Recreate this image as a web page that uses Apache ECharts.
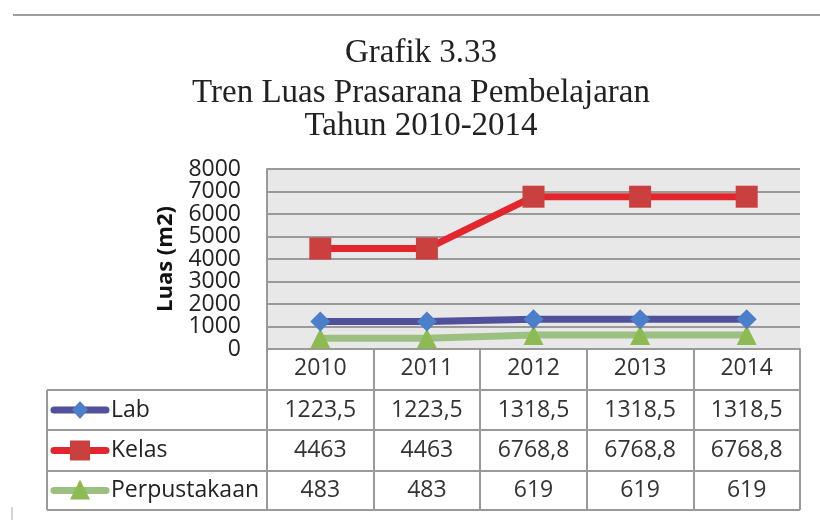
<!DOCTYPE html>
<html>
<head>
<meta charset="utf-8">
<script src="https://cdn.jsdelivr.net/npm/echarts@6/dist/echarts.min.js"></script>
<style>
  html, body { margin: 0; padding: 0; background: #fff; }
  #chart { width: 820px; height: 520px; }
</style>
</head>
<body>
<div id="chart"></div>
<script>
// data
const years = ['2010', '2011', '2012', '2013', '2014']
const lab = [1223.5, 1223.5, 1318.5, 1318.5, 1318.5]
const kelas = [4463, 4463, 6768.8, 6768.8, 6768.8]
const perpustakaan = [483, 483, 619, 619, 619]
const seriesNames = ['Lab', 'Kelas', 'Perpustakaan']
const yTicks = [0, 8000, 1000] // min, max, interval
const yLabels = [0, 1000, 2000, 3000, 4000, 5000, 6000, 7000, 8000]
const titleLines = ['Grafik 3.33', 'Tren Luas Prasarana Pembelajaran', 'Tahun 2010-2014']

const FONT = '"Open Sans", "Noto Sans", sans-serif'
const lineColors = ['#51519b', '#e3262d', '#9cc081']
const markColors = ['#4b7fc9', '#c9403f', '#8dba52']
const markShapes = ['diamond', 'rect', 'triangle']
const markSizes = [20, 22, 20]

// table layout (pixels)
const tableLeft = 47
const plotLeft = 267
const plotRight = 800
const plotTop = 169
const plotBottom = 349
const rowLines = [390, 430, 471, 510]
const titleTops = [37, 77, 110]

const chart = echarts.init(document.getElementById('chart'), null, { renderer: 'canvas' })

const fmt = v => String(v).replace('.', ',')

const option = {
  backgroundColor: '#fff',
  animation: false,
  title: titleLines.map((t, i) => ({
    text: t,
    left: 421,
    top: titleTops[i],
    textAlign: 'center',
    padding: 0,
    textStyle: {
      fontFamily: '"Liberation Serif", "DejaVu Serif", serif',
      fontWeight: 'normal',
      fontSize: 33,
      lineHeight: 33,
      color: '#222'
    }
  })),
  grid: {
    left: plotLeft,
    right: 820 - plotRight,
    top: plotTop,
    bottom: 520 - plotBottom,
    show: true,
    backgroundColor: '#e8e8e8',
    borderWidth: 0
  },
  xAxis: {
    type: 'category',
    data: years,
    boundaryGap: true,
    axisLine: { lineStyle: { color: '#9a9a9a', width: 2 } },
    axisTick: { show: true, length: rowLines[3] - plotBottom, lineStyle: { color: '#9a9a9a', width: 2 } },
    axisLabel: { fontFamily: FONT, fontSize: 23, color: '#333', margin: 8 },
    splitLine: { show: false }
  },
  yAxis: {
    type: 'value',
    min: yTicks[0],
    max: yTicks[1],
    interval: yTicks[2],
    name: 'Luas (m2)',
    nameLocation: 'middle',
    nameGap: 90,
    nameRotate: 90,
    nameTextStyle: { fontFamily: FONT, fontSize: 22, fontWeight: 'bold', color: '#111' },
    axisLine: { show: true, lineStyle: { color: '#9a9a9a', width: 2 } },
    axisTick: { show: false },
    // tick labels are packed tighter than echarts allows, drawn below as graphic text
    axisLabel: { show: false },
    splitLine: { show: true, lineStyle: { color: '#9a9a9a', width: 2 } }
  },
  series: [lab, kelas, perpustakaan].map((d, i) => ({
    name: seriesNames[i],
    type: 'line',
    data: d,
    z: i === 1 ? 4 : 3 - i,
    symbol: markShapes[i],
    symbolSize: markSizes[i],
    lineStyle: { color: lineColors[i], width: 7 },
    itemStyle: { color: markColors[i] }
  }))
}

chart.setOption(option)

const g = []
// y tick labels from the value scale
yLabels.forEach(v => {
  const py = chart.convertToPixel({ yAxisIndex: 0 }, v)
  g.push({ type: 'text', x: 241, y: py, z: 12,
    style: { text: String(v), font: '23px ' + FONT, fill: '#222', textAlign: 'right', textVerticalAlign: 'middle' } })
})

// data table under the plot
const grey = { stroke: '#9a9a9a', lineWidth: 2 }
rowLines.forEach(y => {
  g.push({ type: 'line', shape: { x1: tableLeft, y1: y, x2: plotRight, y2: y }, style: grey, z: 10 })
})
g.push({ type: 'line', shape: { x1: tableLeft, y1: rowLines[0], x2: tableLeft, y2: rowLines[3] }, style: grey, z: 10 })
// page frame lines
g.push({ type: 'line', shape: { x1: 13, y1: 15, x2: 820, y2: 15 }, style: { stroke: '#9d9d9d', lineWidth: 2 }, z: 10 })
g.push({ type: 'line', shape: { x1: 12, y1: 507, x2: 12, y2: 520 }, style: { stroke: '#aaa', lineWidth: 1 }, z: 10 })

const rows = [lab, kelas, perpustakaan]
rows.forEach((d, r) => {
  const cy = (rowLines[r] + rowLines[r + 1]) / 2
  // legend key: line + marker
  g.push({ type: 'line', shape: { x1: 54, y1: cy, x2: 106, y2: cy },
    style: { stroke: lineColors[r], lineWidth: 7, lineCap: 'round' }, z: 11 })
  const mx = 80
  if (markShapes[r] === 'diamond') {
    g.push({ type: 'polygon', shape: { points: [[mx, cy - 9], [mx + 8, cy], [mx, cy + 9], [mx - 8, cy]] },
      style: { fill: markColors[r] }, z: 12 })
  } else if (markShapes[r] === 'rect') {
    g.push({ type: 'rect', shape: { x: mx - 10, y: cy - 10, width: 20, height: 20 },
      style: { fill: markColors[r] }, z: 12 })
  } else {
    g.push({ type: 'polygon', shape: { points: [[mx, cy - 11], [mx + 10, cy + 9], [mx - 10, cy + 9]] },
      style: { fill: markColors[r] }, z: 12 })
  }
  g.push({ type: 'text', x: 111, y: cy, z: 12,
    style: { text: seriesNames[r], font: '23px ' + FONT, fill: '#222', textVerticalAlign: 'middle' } })
  d.forEach((v, i) => {
    const px = chart.convertToPixel({ xAxisIndex: 0 }, years[i])
    g.push({ type: 'text', x: px, y: cy, z: 12,
      style: { text: fmt(v), font: '23px ' + FONT, fill: '#333', textAlign: 'center', textVerticalAlign: 'middle' } })
  })
})

chart.setOption({ graphic: g })
</script>
</body>
</html>
